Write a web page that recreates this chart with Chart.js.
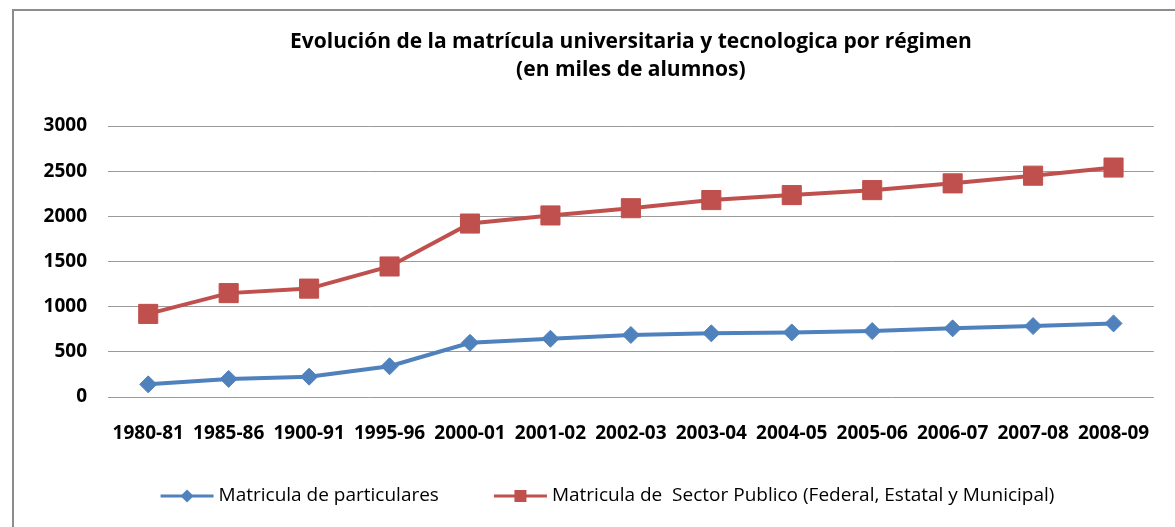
<!DOCTYPE html>
<html>
<head>
<meta charset="utf-8">
<script src="https://cdn.jsdelivr.net/npm/chart.js@4.4.0/dist/chart.umd.min.js"></script>
<style>
  html, body { margin: 0; padding: 0; background: #fff; overflow: hidden; }
  #wrap { position: relative; width: 1175px; height: 527px; }
  #frame { position: absolute; left: 12px; top: 9px; width: 1300px; height: 700px;
           border-left: 2px solid #8c8c8c; border-top: 2px solid #8c8c8c; box-sizing: border-box; }
  canvas { position: absolute; left: 0; top: 0; }
</style>
</head>
<body>
<div id="wrap">
  <div id="frame"></div>
  <canvas id="c" width="1175" height="527"></canvas>
</div>
<script>
const titleLines = ['Evolución de la matrícula universitaria y tecnologica por régimen', '(en miles de alumnos)'];
const categories = ['1980-81','1985-86','1900-91','1995-96','2000-01','2001-02','2002-03','2003-04','2004-05','2005-06','2006-07','2007-08','2008-09'];
const seriesNames = ['Matricula de particulares', 'Matricula de  Sector Publico (Federal, Estatal y Municipal)'];
const particulares = [140, 200, 225, 340, 600, 645, 687, 705, 715, 730, 760, 785, 815];
const sectorPublico = [920, 1150, 1200, 1445, 1920, 2010, 2090, 2180, 2235, 2290, 2365, 2450, 2540];
const yTicks = [0, 500, 1000, 1500, 2000, 2500, 3000];

const BLUE = '#4F81BD';
const RED = '#C0504D';
const FONT = 'Open Sans';

// Legend drawn below the axis: line + marker, then the series name
const bottomLegend = {
  id: 'bottomLegend',
  afterDraw(chart) {
    const ctx = chart.ctx;
    const y = 496, lineLen = 53, textGap = 5, itemGap = 55;
    ctx.save();
    ctx.font = '19px "' + FONT + '"';
    const items = chart.data.datasets.map(ds => ({
      ds, w: lineLen + textGap + ctx.measureText(ds.label).width
    }));
    const total = items.reduce((s, it) => s + it.w, 0) + itemGap * (items.length - 1);
    let x = chart.width / 2 + 20 - total / 2;
    items.forEach(({ ds }, i) => {
      ctx.strokeStyle = ds.borderColor; ctx.lineWidth = 3;
      ctx.beginPath(); ctx.moveTo(x, y); ctx.lineTo(x + lineLen, y); ctx.stroke();
      ctx.fillStyle = ds.borderColor;
      const cx = x + lineLen / 2;
      ctx.beginPath();
      if (ds.pointStyle === 'rectRot') {
        ctx.moveTo(cx, y - 6.5); ctx.lineTo(cx + 6.5, y); ctx.lineTo(cx, y + 6.5); ctx.lineTo(cx - 6.5, y);
        ctx.closePath();
      } else {
        ctx.rect(cx - 6, y - 6, 12, 12);
      }
      ctx.fill();
      ctx.fillStyle = '#000'; ctx.textBaseline = 'middle'; ctx.textAlign = 'left';
      ctx.fillText(ds.label, x + lineLen + textGap, y);
      x += items[i].w + itemGap;
    });
    ctx.restore();
  }
};

new Chart(document.getElementById('c'), {
  type: 'line',
  data: {
    labels: categories,
    datasets: [
      { label: seriesNames[0], data: particulares, borderColor: BLUE, backgroundColor: BLUE,
        borderWidth: 4, tension: 0, pointStyle: 'rectRot', pointRadius: 8.5,
        pointBorderWidth: 1, pointBackgroundColor: BLUE, pointBorderColor: BLUE },
      { label: seriesNames[1], data: sectorPublico, borderColor: RED, backgroundColor: RED,
        borderWidth: 4, tension: 0, pointStyle: 'rect', pointRadius: 13.5,
        pointBorderWidth: 1, pointBackgroundColor: RED, pointBorderColor: RED }
    ]
  },
  plugins: [bottomLegend],
  options: {
    responsive: false,
    animation: false,
    devicePixelRatio: 1,
    layout: { padding: { left: 42, right: 11, top: 0, bottom: 57.2 } },
    plugins: {
      tooltip: { enabled: false },
      legend: { display: false },
      title: {
        display: true, text: titleLines, fullSize: false, color: '#000',
        font: { family: FONT, size: 21, weight: 'bold', lineHeight: 28 / 21 },
        padding: { top: 28.5, bottom: 41.5 }
      }
    },
    scales: {
      x: {
        offset: true,
        grid: { display: false, drawTicks: false },
        border: { display: false },
        ticks: { color: '#000', font: { family: FONT, size: 19, weight: 'bold' },
                 padding: 25, autoSkip: false, maxRotation: 0, minRotation: 0 }
      },
      y: {
        min: 0, max: 3000,
        afterBuildTicks: (s) => { s.ticks = yTicks.map(v => ({ value: v })); },
        grid: { color: '#9a9a9a', lineWidth: 1, drawTicks: false },
        border: { display: false },
        ticks: { color: '#000', font: { family: FONT, size: 19, weight: 'bold' }, padding: 21,
                 callback: (v) => String(v) },
        afterFit: (s) => { s.width = 66; }
      }
    }
  }
});
</script>
</body>
</html>
